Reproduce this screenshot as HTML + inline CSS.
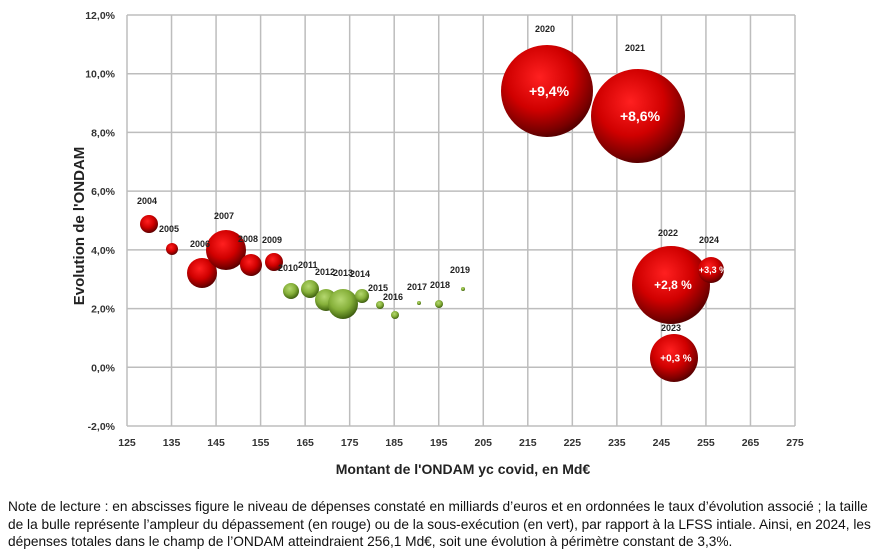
<!DOCTYPE html>
<html><head><meta charset="utf-8"><style>
body{margin:0;background:#fff;width:886px;height:557px;overflow:hidden;font-family:"Liberation Sans",sans-serif}
.note{position:absolute;left:8px;top:498px;font-size:13.7px;line-height:17.5px;color:#111;width:880px;white-space:nowrap}
</style></head><body>
<svg width="886" height="500" style="position:absolute;left:0;top:0" font-family="Liberation Sans, sans-serif">
<defs>
<radialGradient id="r" cx="0.42" cy="0.35" r="0.65"><stop offset="0" stop-color="#ff2020"/><stop offset="0.55" stop-color="#d00000"/><stop offset="0.9" stop-color="#7a0000"/><stop offset="1" stop-color="#5a0000"/></radialGradient>
<radialGradient id="g" cx="0.42" cy="0.35" r="0.65"><stop offset="0" stop-color="#b5d870"/><stop offset="0.55" stop-color="#86b03a"/><stop offset="0.9" stop-color="#4f7418"/><stop offset="1" stop-color="#3d5a10"/></radialGradient>
</defs>
<g stroke="#bdbdbd" stroke-width="1.5" fill="none" id="grid"></g>
<g id="ax" font-size="10.5" font-weight="bold" fill="#333"></g>
<text x="463" y="474" font-size="14" font-weight="bold" text-anchor="middle" fill="#222">Montant de l'ONDAM yc covid, en Md€</text>
<text transform="translate(84,226) rotate(-90)" font-size="15" font-weight="bold" text-anchor="middle" fill="#222">Evolution de l'ONDAM</text>
<g id="b"></g>
</svg>
<div class="note">Note de lecture : en abscisses figure le niveau de dépenses constaté en milliards d’euros et en ordonnées le taux d’évolution associé ; la taille<br>de la bulle représente l’ampleur du dépassement (en rouge) ou de la sous-exécution (en vert), par rapport à la LFSS intiale. Ainsi, en 2024, les<br>dépenses totales dans le champ de l’ONDAM atteindraient 256,1 Md€, soit une évolution à périmètre constant de 3,3%.</div>
<script>
const NS="http://www.w3.org/2000/svg";
function el(p,t,a,txt){const e=document.createElementNS(NS,t);for(const k in a)e.setAttribute(k,a[k]);if(txt)e.textContent=txt;document.getElementById(p).appendChild(e);}
const x0=127,x1=795,y0=15,y1=426;
for(let i=0;i<=15;i++){const x=x0+(x1-x0)*i/15;el('grid','line',{x1:x,x2:x,y1:y0,y2:y1});el('ax','text',{x:x,y:446,'text-anchor':'middle'},String(125+10*i));}
for(let j=0;j<=7;j++){const y=y0+(y1-y0)*j/7;el('grid','line',{x1:x0,x2:x1,y1:y,y2:y});el('ax','text',{x:115,y:y+4,'text-anchor':'end'},(12-2*j).toFixed(1).replace('.',',')+'%');}
const B=[
['2004',149,224,9,'r',137,195],['2005',172,249,6,'r',159,223],['2006',202,273,15,'r',190,238],['2007',226,250,20,'r',214,210],
['2008',251,265,11,'r',238,233],['2009',274,262,9,'r',262,234],['2010',291,291,8,'r',278,262],['2011',310,289,9,'r',298,259],
['2012',326,300,11,'r',315,266],['2013',343,304,15,'r',333,267],['2014',362,296,7,'r',350,268],['2015',380,305,4,'r',368,282],
['2016',395,315,4,'r',383,291],['2017',419,303,2,'r',407,281],['2018',439,304,4,'r',430,279],['2019',463,289,2,'r',450,264],
['2020',547,91,46,'r',535,23],['2021',638,116,47,'r',625,42],['2022',671,285,39,'r',658,227],['2023',674,358,24,'r',661,322],['2024',711,270,13,'r',699,234]];
const greens=['2010','2011','2012','2013','2014','2015','2016','2017','2018','2019'];
const lbl={'2020':'+9,4%','2021':'+8,6%','2022':'+2,8 %','2023':'+0,3 %','2024':'+3,3 %'};
const fs={'2020':14,'2021':14,'2022':12,'2023':10,'2024':9};
B.forEach(b=>{const g=greens.includes(b[0]);el('b','circle',{cx:b[1],cy:b[2],r:b[3],fill:g?'url(#g)':'url(#r)'});});
B.forEach(b=>{el('b','text',{x:b[5],y:b[6]+9,'font-size':9,'font-weight':'bold',fill:'#222'},b[0]);
if(lbl[b[0]])el('b','text',{x:b[1]+2,y:b[2]+fs[b[0]]*0.35,'font-size':fs[b[0]],'font-weight':'bold',fill:'#fff','text-anchor':'middle'},lbl[b[0]]);});
</script>
</body></html>
